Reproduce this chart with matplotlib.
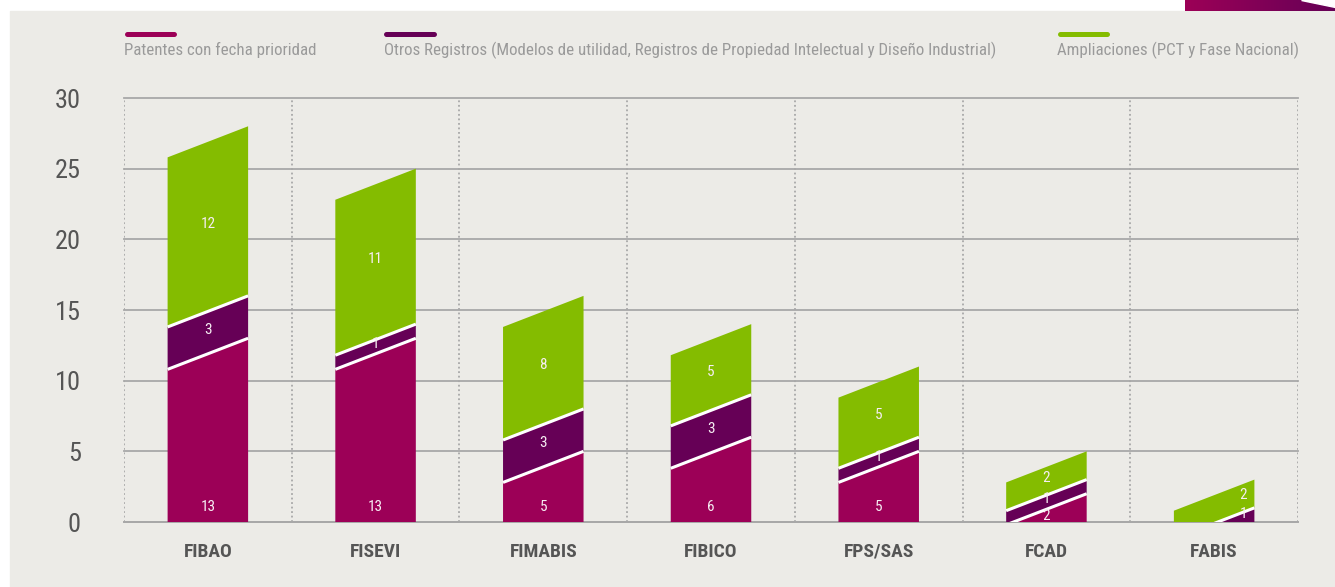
import matplotlib.pyplot as plt
import numpy as np
from matplotlib.patches import Polygon, Rectangle
from matplotlib.lines import Line2D
from matplotlib.colors import LinearSegmentedColormap

categories = ['FIBAO', 'FISEVI', 'FIMABIS', 'FIBICO', 'FPS/SAS', 'FCAD', 'FABIS']
patentes = [13, 13, 5, 6, 5, 2, 0]
otros = [3, 1, 3, 3, 1, 1, 1]
ampliaciones = [12, 11, 8, 5, 5, 2, 2]
series_names = ['Patentes con fecha prioridad',
                'Otros Registros (Modelos de utilidad, Registros de Propiedad Intelectual y Diseño Industrial)',
                'Ampliaciones (PCT y Fase Nacional)']
y_ticks = [0, 5, 10, 15, 20, 25, 30]

colors = ['#9c0057', '#660056', '#84bc00']
bg = '#ecebe7'
grid_c = '#a8a8a8'
W, H = 1335, 587

plt.rcParams['font.family'] = ['Roboto Condensed', 'Roboto']
plt.rcParams['font.stretch'] = 'condensed'

fig = plt.figure(figsize=(W / 100, H / 100), dpi=100)
fig.patch.set_facecolor('white')
fig.add_artist(Rectangle((10 / W, 0), 1, (H - 11) / H, transform=fig.transFigure,
                         color=bg, zorder=-10))

# corner decoration
gax = fig.add_axes([1185 / W, (H - 11) / H, 150 / W, 11 / H])
cmap = LinearSegmentedColormap.from_list('g', ['#9c0057', '#660056'])
gax.imshow(np.linspace(0, 1, 100).reshape(1, -1), cmap=cmap, aspect='auto', extent=[0, 1, 0, 1])
gax.add_patch(Polygon([(0.77, 1), (1, 1), (1, 0.35)], color='white'))
gax.axis('off')

ax = fig.add_axes([124 / W, (H - 522) / H, (1298 - 124) / W, (522 - 98) / H])
ax.set_facecolor('none')
n = len(categories)
ax.set_xlim(-0.5, n - 0.5)
ax.set_ylim(0, 30)

slant = 2.2
half = 0.24
label_frac = [0.5] * 6 + [0.86]

for i in range(n):
    vals = [patentes[i], otros[i], ampliaciones[i]]
    xl, xr = i - half, i + half
    f = label_frac[i]
    lx = xl + f * 2 * half

    def bnd(c):
        return max(0, c - slant * (1 - f))

    bottom = 0
    for k, v in enumerate(vals):
        if v == 0:
            continue
        top = bottom + v
        if bottom == 0:
            lower = [(xl, 0), (xr, 0)]
        else:
            lower = [(xl, bottom - slant), (xr, bottom)]
        ax.add_patch(Polygon(lower + [(xr, top), (xl, top - slant)], closed=True,
                             facecolor=colors[k], edgecolor='none', zorder=3))
        if k < 2:
            ax.plot([xl, xr], [top - slant, top], color='white', lw=2.2,
                    solid_capstyle='butt', zorder=4)
        if k == 0:
            ly = min(1.05, bnd(top) / 2)
        else:
            ly = (bnd(bottom) + bnd(top)) / 2 + 0.2
        ax.text(lx, ly, str(v), color='#f6eef3', fontsize=11, ha='center', va='center',
                zorder=5)
        bottom = top

ax.set_yticks(y_ticks)
ax.set_xticks(range(n))
ax.set_xticklabels(categories, fontweight='bold')
ax.set_xticks(np.arange(-0.5, n), minor=True)
ax.set_axisbelow(True)
ax.yaxis.grid(True, color=grid_c, lw=1.3)
ax.xaxis.grid(True, which='minor', color=grid_c, lw=1.3, linestyle=(0, (1, 1.5)))
for line in ax.get_ygridlines():
    line.set_clip_on(False)
for s in ['top', 'left', 'right']:
    ax.spines[s].set_visible(False)
ax.spines['bottom'].set_color(grid_c)
ax.spines['bottom'].set_linewidth(1.3)
ax.tick_params(axis='y', length=0, pad=31, labelsize=19, labelcolor='#555555')
ax.tick_params(axis='x', which='major', length=0, pad=15, labelsize=14, labelcolor='#555555')
ax.tick_params(axis='x', which='minor', length=0)

# legend
for x0, name, color in zip([124, 384, 1057], series_names, colors):
    fig.add_artist(Line2D([(x0 + 2.5) / W, (x0 + 49.5) / W], [1 - 34 / H] * 2,
                          transform=fig.transFigure, color=color, lw=3.6,
                          solid_capstyle='round'))
    fig.text(x0 / W, 1 - 50 / H, name, color='#9a9a9a', fontsize=12.2, va='center', ha='left')

plt.savefig('out.png', dpi=100)
